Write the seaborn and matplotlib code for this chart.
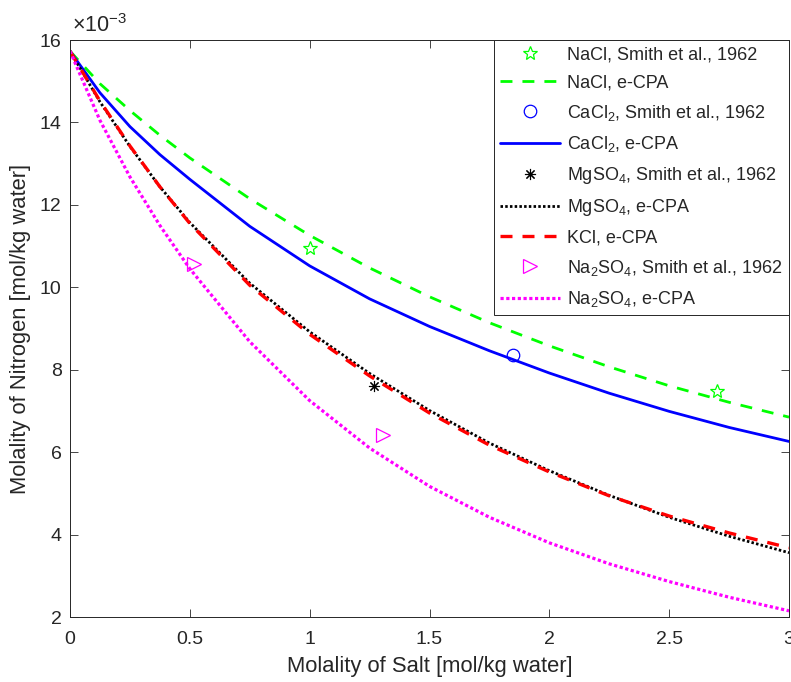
import numpy as np
import pandas as pd
import matplotlib
matplotlib.use("Agg")
import matplotlib.pyplot as plt
import seaborn as sns
from matplotlib.ticker import FuncFormatter

# Configs
OUT_FILE = "out.png"
SCALE = 1e-3  # y values below are read in units of 1e-3 mol/kg

# e-CPA model curves
x_model = [0, 0.125, 0.25, 0.375, 0.5, 0.75, 1.0, 1.25, 1.5, 1.75, 2.0, 2.25, 2.5, 2.75, 3.0]
nacl_cpa = [15.73, 14.94, 14.29, 13.69, 13.14, 12.15, 11.26, 10.47, 9.77, 9.14, 8.58, 8.07, 7.61, 7.21, 6.85]
cacl2_cpa = [15.73, 14.72, 13.90, 13.22, 12.62, 11.48, 10.52, 9.72, 9.05, 8.46, 7.92, 7.43, 6.99, 6.60, 6.26]
mgso4_cpa = [15.73, 14.50, 13.42, 12.44, 11.57, 10.10, 8.92, 7.91, 7.01, 6.22, 5.55, 4.95, 4.42, 3.96, 3.56]
kcl_cpa = [15.73, 14.52, 13.43, 12.44, 11.55, 10.05, 8.86, 7.85, 6.95, 6.17, 5.52, 4.94, 4.45, 4.04, 3.68]
na2so4_cpa = [15.73, 14.05, 12.68, 11.50, 10.45, 8.68, 7.25, 6.10, 5.17, 4.42, 3.80, 3.29, 2.86, 2.48, 2.15]

# Smith et al., 1962 data points
nacl_exp_x = [1.0, 2.7]
nacl_exp_y = [10.96, 7.49]
cacl2_exp_x = [1.847]
cacl2_exp_y = [8.36]
mgso4_exp_x = [1.267]
mgso4_exp_y = [7.60]
na2so4_exp_x = [0.518, 1.306]
na2so4_exp_y = [10.56, 6.42]


def sc(vals):
    return np.array(vals) * SCALE


def main():
    sns.set_style("ticks")
    plt.rcParams["font.family"] = ["Liberation Sans", "DejaVu Sans"]
    plt.rcParams["mathtext.fontset"] = "custom"
    plt.rcParams["mathtext.rm"] = "Liberation Sans"
    plt.rcParams["mathtext.default"] = "regular"

    fig = plt.figure(figsize=(7.91, 6.82), dpi=100)
    ax = fig.add_axes([0.0885, 0.0953, 0.909, 0.846])

    gray = "#262626"

    # 1. experimental points + model curves, in legend order
    sns.lineplot(x=nacl_exp_x, y=sc(nacl_exp_y), ax=ax, linestyle="none", marker="*",
                 markersize=10.5, markerfacecolor="none", markeredgecolor="#00ff00",
                 markeredgewidth=0.9, label="NaCl, Smith et al., 1962")
    sns.lineplot(x=x_model, y=sc(nacl_cpa), ax=ax, color="#00ff00", linewidth=2.0,
                 linestyle=(0, (4.3, 3.6)), label="NaCl, e-CPA")
    sns.lineplot(x=cacl2_exp_x, y=sc(cacl2_exp_y), ax=ax, linestyle="none", marker="o",
                 markersize=9, markerfacecolor="none", markeredgecolor="#0000ff",
                 markeredgewidth=0.9, label="CaCl$_2$, Smith et al., 1962")
    sns.lineplot(x=x_model, y=sc(cacl2_cpa), ax=ax, color="#0000ff", linewidth=2.0,
                 linestyle="-", label="CaCl$_2$, e-CPA")
    sns.lineplot(x=mgso4_exp_x, y=sc(mgso4_exp_y), ax=ax, linestyle="none", marker=(8, 2, 0),
                 markersize=8, color="black", markeredgecolor="black",
                 markeredgewidth=0.8, label="MgSO$_4$, Smith et al., 1962")
    sns.lineplot(x=x_model, y=sc(mgso4_cpa), ax=ax, color="black", linewidth=2.0,
                 linestyle=(0, (0.9, 0.8)), label="MgSO$_4$, e-CPA")
    sns.lineplot(x=x_model, y=sc(kcl_cpa), ax=ax, color="#ff0000", linewidth=2.4,
                 linestyle=(0, (3.6, 3.0)), label="KCl, e-CPA")
    sns.lineplot(x=na2so4_exp_x, y=sc(na2so4_exp_y), ax=ax, linestyle="none", marker=">",
                 markersize=10, markerfacecolor="none", markeredgecolor="#ff00ff",
                 markeredgewidth=0.9, label="Na$_2$SO$_4$, Smith et al., 1962")
    sns.lineplot(x=x_model, y=sc(na2so4_cpa), ax=ax, color="#ff00ff", linewidth=2.3,
                 linestyle=(0, (1.0, 0.8)), label="Na$_2$SO$_4$, e-CPA")

    # 2. axes
    ax.set_xlim(0, 3)
    ax.set_ylim(2 * SCALE, 16 * SCALE)
    ax.set_xticks([0, 0.5, 1, 1.5, 2, 2.5, 3])
    ax.set_xticklabels(["0", "0.5", "1", "1.5", "2", "2.5", "3"])
    ax.set_yticks(sc([2, 4, 6, 8, 10, 12, 14, 16]))
    ax.yaxis.set_major_formatter(FuncFormatter(lambda v, p: f"{v / SCALE:g}"))

    ax.tick_params(direction="in", length=6, width=0.6, colors=gray, labelsize=14,
                   top=True, right=True)
    ax.tick_params(axis="x", pad=10)
    ax.tick_params(axis="y", pad=6)
    for sp in ax.spines.values():
        sp.set_visible(True)
        sp.set_color(gray)
        sp.set_linewidth(0.7)

    # exponent label above the y axis
    ax.text(0.003, 1.006, "\u00d710$^{-3}$", transform=ax.transAxes, fontsize=15.5,
            color=gray, ha="left", va="bottom")

    ax.set_xlabel("Molality of Salt [mol/kg water]", fontsize=15.8, color=gray, labelpad=6)
    ax.set_ylabel("Molality of Nitrogen [mol/kg water]", fontsize=15.8, color=gray, labelpad=6)

    # 3. legend
    leg = ax.legend(loc="upper right", borderaxespad=0, fontsize=13, frameon=True,
                    fancybox=False, handlelength=3.3, handletextpad=0.4,
                    labelspacing=0.62, borderpad=0.35)
    leg.get_frame().set_edgecolor(gray)
    leg.get_frame().set_linewidth(0.7)
    leg.get_frame().set_alpha(1)

    fig.savefig(OUT_FILE, dpi=100)
    print("saved", OUT_FILE)


if __name__ == "__main__":
    main()
